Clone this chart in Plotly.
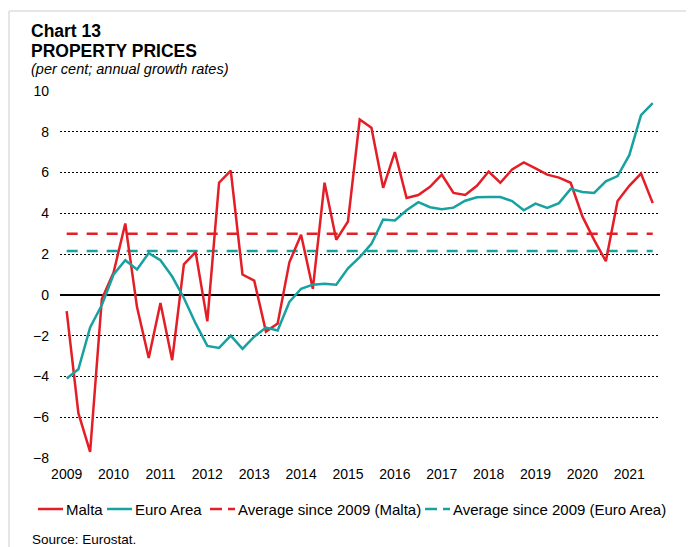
import plotly.graph_objects as go

# Quarterly data 2009Q1 - 2021Q3 (annual growth rates, per cent)
quarters = [f"{y}Q{q}" for y in range(2009, 2022) for q in range(1, 5)][:51]

malta = [-0.8, -5.8, -7.7, -0.2, 1.1, 3.5, -0.6, -3.1,
         -0.4, -3.2, 1.5, 2.1, -1.3, 5.5, 6.1, 1.0,
         0.7, -1.8, -1.4, 1.6, 2.95, 0.3, 5.5, 2.7,
         3.6, 8.6, 8.2, 5.25, 7.0, 4.75, 4.9, 5.3,
         5.9, 5.0, 4.9, 5.35, 6.05, 5.5, 6.15, 6.5,
         6.2, 5.9, 5.75, 5.5, 3.85, 2.7, 1.65, 4.6,
         5.35, 5.95, 4.5]

euro = [-4.1, -3.65, -1.6, -0.5, 1.0, 1.7, 1.25, 2.05,
        1.7, 0.9, -0.15, -1.4, -2.5, -2.6, -2.0, -2.65,
        -2.05, -1.6, -1.75, -0.35, 0.3, 0.5, 0.55, 0.5,
        1.3, 1.85, 2.5, 3.7, 3.65, 4.15, 4.55, 4.3,
        4.2, 4.28, 4.62, 4.79, 4.8, 4.8, 4.6, 4.15,
        4.48, 4.27, 4.5, 5.2, 5.05, 5.0, 5.57, 5.83,
        6.85, 8.82, 9.4]

avg_malta = 3.0
avg_euro = 2.15

years = list(range(2009, 2022))
year_labels = [str(y) for y in years]
year_positions = [quarters.index(f"{y}Q1") for y in years]

RED = "#E41E26"
TEAL = "#17A1A1"
FONT = "Arial, Liberation Sans, sans-serif"

x = list(range(len(quarters)))

fig = go.Figure()
fig.add_trace(go.Scatter(x=x, y=[avg_malta] * len(x), mode="lines",
                         line=dict(color=RED, width=2.5, dash="11px,9px"),
                         name="Average since 2009 (Malta)", hoverinfo="skip"))
fig.add_trace(go.Scatter(x=x, y=[avg_euro] * len(x), mode="lines",
                         line=dict(color=TEAL, width=2.5, dash="11px,9px"),
                         name="Average since 2009 (Euro Area)", hoverinfo="skip"))
fig.add_trace(go.Scatter(x=x, y=malta, mode="lines",
                         line=dict(color=RED, width=2.5), name="Malta"))
fig.add_trace(go.Scatter(x=x, y=euro, mode="lines",
                         line=dict(color=TEAL, width=2.5), name="Euro Area"))

# the page body has an 8px margin; work in page pixel coordinates
OFF = 8
W, H = 694 - OFF, 547 - OFF
plot_left, plot_right, plot_top, plot_bottom = 60, 660, 91, 458
L = plot_left - OFF
R = W - (plot_right - OFF)
T = plot_top - OFF
B = H - (plot_bottom - OFF)
pw, ph = plot_right - plot_left, plot_bottom - plot_top


def px(xp):
    return (xp - plot_left) / pw


def py(yp):
    return (plot_bottom - yp) / ph


fig.update_layout(
    width=W, height=H,
    margin=dict(l=L, r=R, t=T, b=B),
    paper_bgcolor="white", plot_bgcolor="white",
    showlegend=False,
    font=dict(family=FONT, size=14, color="black"),
)

fig.update_xaxes(
    range=[-0.57, 50.62],
    tickmode="array", tickvals=year_positions, ticktext=year_labels,
    showgrid=False, zeroline=False, showline=False, ticks="",
    ticklabelstandoff=6,
    tickfont=dict(family=FONT, size=14, color="black"),
)
fig.update_yaxes(
    range=[-8, 10], dtick=2, tick0=0,
    showgrid=True, gridcolor="black", gridwidth=1, griddash="2px,2px",
    zeroline=True, zerolinecolor="black", zerolinewidth=2,
    showline=False, ticks="",
    ticklabelstandoff=10,
    tickfont=dict(family=FONT, size=14, color="black"),
)

annotations = [
    dict(text="<b>Chart 13</b>", x=px(29), y=py(31), xanchor="left", yanchor="middle",
         font=dict(size=17.5)),
    dict(text="<b>PROPERTY PRICES</b>", x=px(29), y=py(51), xanchor="left", yanchor="middle",
         font=dict(size=17.5)),
    dict(text="<i>(per cent; annual growth rates)</i>", x=px(29), y=py(69), xanchor="left",
         yanchor="middle", font=dict(size=14.5)),
    dict(text="Source: Eurostat.", x=px(30), y=py(539), xanchor="left", yanchor="middle",
         font=dict(size=13.5)),
]

# Legend (drawn manually to match the short line samples)
legend_items = [
    ("Malta", RED, "solid", 38),
    ("Euro Area", TEAL, "solid", 107),
    ("Average since 2009 (Malta)", RED, "dash", 210),
    ("Average since 2009 (Euro Area)", TEAL, "dash", 425),
]
shapes = []
ly = py(509)
for label, color, style, x0 in legend_items:
    if style == "solid":
        shapes.append(dict(type="line", xref="paper", yref="paper",
                           x0=px(x0), x1=px(x0 + 25), y0=ly, y1=ly,
                           line=dict(color=color, width=2.5)))
    else:
        shapes.append(dict(type="line", xref="paper", yref="paper",
                           x0=px(x0), x1=px(x0 + 12), y0=ly, y1=ly,
                           line=dict(color=color, width=2.5)))
        shapes.append(dict(type="line", xref="paper", yref="paper",
                           x0=px(x0 + 18), x1=px(x0 + 25), y0=ly, y1=ly,
                           line=dict(color=color, width=2.5)))
    annotations.append(dict(text=label, x=px(x0 + 26), y=ly, xanchor="left",
                            yanchor="middle", font=dict(size=15)))

# light frame
shapes.append(dict(type="line", xref="paper", yref="paper", x0=px(9), x1=px(700),
                   y0=py(11), y1=py(11), line=dict(color="#E6E6E6", width=2)))
shapes.append(dict(type="line", xref="paper", yref="paper", x0=px(9), x1=px(9),
                   y0=py(11), y1=py(560), line=dict(color="#E6E6E6", width=2)))

for a in annotations:
    a.update(xref="paper", yref="paper", showarrow=False)

fig.update_layout(annotations=annotations, shapes=shapes)

fig.write_html("out.html")
